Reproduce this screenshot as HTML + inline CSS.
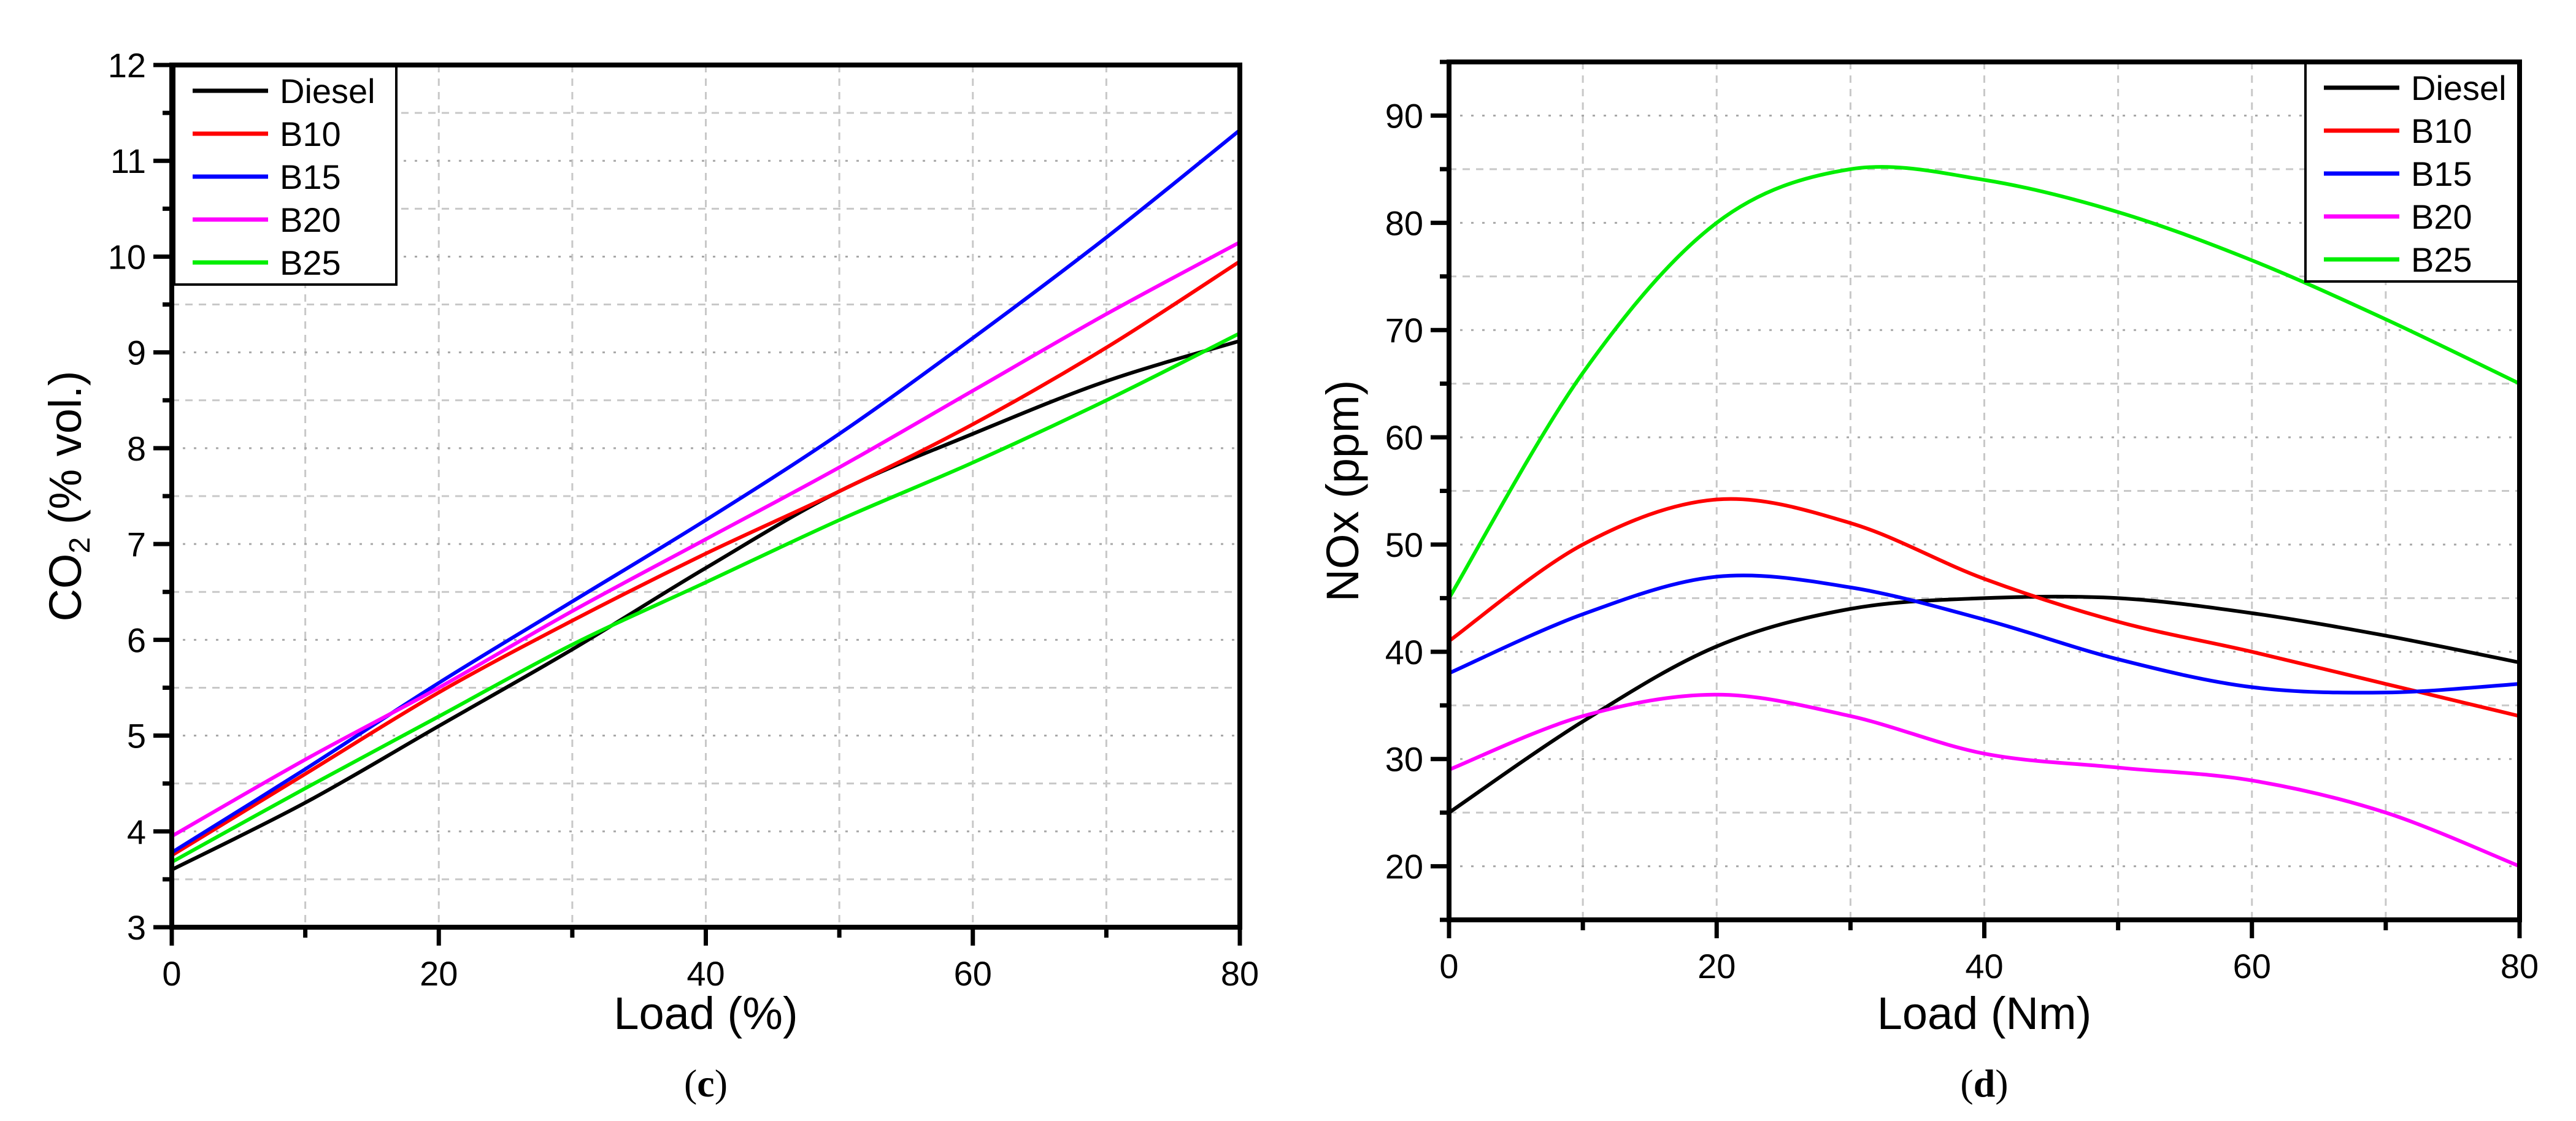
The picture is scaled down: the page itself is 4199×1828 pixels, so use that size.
<!DOCTYPE html>
<html><head><meta charset="utf-8">
<style>
html,body{margin:0;padding:0;background:#fff;}
svg{display:block;font-family:"Liberation Sans",Arial,sans-serif;}
</style></head>
<body>
<svg id="fig" width="4199" height="1828" viewBox="0 0 4199 1828" xmlns="http://www.w3.org/2000/svg"></svg>
<script>
// ---- Chart (c): CO2 ----
const co2Loads = [0,10,20,30,40,50,60,70,80];
const co2Diesel = [3.6,4.3,5.1,5.9,6.75,7.55,8.15,8.7,9.12];
const co2B10 = [3.75,4.6,5.45,6.2,6.9,7.55,8.25,9.05,9.95];
const co2B15 = [3.78,4.65,5.55,6.4,7.25,8.15,9.15,10.2,11.32];
const co2B20 = [3.95,4.75,5.5,6.3,7.05,7.8,8.6,9.4,10.15];
const co2B25 = [3.68,4.45,5.2,5.95,6.6,7.25,7.85,8.5,9.2];
const co2YTicks = [3,4,5,6,7,8,9,10,11,12];
const xTicks = [0,20,40,60,80];
// ---- Chart (d): NOx ----
const noxLoads = [0,10,20,30,40,50,60,70,80];
const noxDiesel = [25,33.5,40.5,44,45,45,43.6,41.5,39];
const noxB10 = [41,50,54.2,52,46.8,42.8,40,37,34];
const noxB15 = [38,43.5,47,46,43,39.3,36.7,36.2,37];
const noxB20 = [29,34,36,34,30.5,29.2,28,25,20];
const noxB25 = [45,66,80,85,84,81,76.5,71,65];
const noxYTicks = [20,30,40,50,60,70,80,90];
const seriesNames = ["Diesel","B10","B15","B20","B25"];
const seriesColors = ["#000000","#ff0000","#0000ff","#ff00ff","#00ee00"];

const NS="http://www.w3.org/2000/svg";
const svg=document.getElementById('fig');
function mk(tag,attrs,parent){const e=document.createElementNS(NS,tag);for(const k in attrs)e.setAttribute(k,attrs[k]);(parent||svg).appendChild(e);return e;}

function smoothPath(pts){
  let d=`M${pts[0][0]},${pts[0][1]}`;
  for(let i=0;i<pts.length-1;i++){
    const p0=pts[i-1]||pts[i],p1=pts[i],p2=pts[i+1],p3=pts[i+2]||p2;
    const c1=[p1[0]+(p2[0]-p0[0])/6,p1[1]+(p2[1]-p0[1])/6];
    const c2=[p2[0]-(p3[0]-p1[0])/6,p2[1]-(p3[1]-p1[1])/6];
    d+=` C${c1[0]},${c1[1]} ${c2[0]},${c2[1]} ${p2[0]},${p2[1]}`;
  }
  return d;
}

function chart(cfg){
  const g=mk('g',{});
  
  
  const X=v=>cfg.x0+(v-0)/80*(cfg.x1-cfg.x0);
  const Y=v=>cfg.yb+(v-cfg.ymin)/(cfg.ymax-cfg.ymin)*(cfg.yt-cfg.yb);
  for(let v=10;v<80;v+=10){
    const l=mk('line',{x1:X(v),x2:X(v),y1:cfg.yt,y2:cfg.yb,stroke:'#c8c8c8','stroke-width':3,'stroke-dasharray':'12 10'},g);
    
    
  }
  for(let v=cfg.ymin+cfg.minor;v<cfg.ymax-1e-9;v+=cfg.minor){
    const major=Math.abs(v/cfg.major-Math.round(v/cfg.major))<1e-6;
    const l=mk('line',{x1:cfg.x0,x2:cfg.x1,y1:Y(v),y2:Y(v),stroke:major?'#a8a8a8':'#c8c8c8','stroke-width':3,'stroke-dasharray':major?'4 14':'12 10'},g);
    
    
  }
  cfg.series.forEach((s,i)=>{
    const pts=cfg.loads.map((x,j)=>[X(x),Y(s[j])]);
    const p=mk('path',{d:smoothPath(pts),fill:'none',stroke:seriesColors[i],'stroke-width':6},g);
    
    
  });
  const f=mk('rect',{x:cfg.x0,y:cfg.yt,width:cfg.x1-cfg.x0,height:cfg.yb-cfg.yt,fill:'none',stroke:'#000','stroke-width':8},g);
  
  
  for(let v=0;v<=80;v+=10){
    const major=v%20===0;
    const t=mk('line',{x1:X(v),x2:X(v),y1:cfg.yb,y2:cfg.yb+(major?30:17),stroke:'#000','stroke-width':7},g);
    
    
  }
  xTicks.forEach(v=>{
    const t=mk('text',{x:X(v),y:cfg.yb+95,'font-size':56,'text-anchor':'middle'},g);
    t.textContent=v;
    
    
  });
  for(let v=cfg.ymin;v<=cfg.ymax+1e-9;v+=cfg.minor){
    const major=Math.abs(v/cfg.major-Math.round(v/cfg.major))<1e-6;
    const t=mk('line',{x1:cfg.x0,x2:cfg.x0-(major?30:15),y1:Y(v),y2:Y(v),stroke:'#000','stroke-width':7},g);
    
    
  }
  cfg.yticks.forEach(v=>{
    const t=mk('text',{x:cfg.x0-42,y:Y(v)+20,'font-size':56,'text-anchor':'end'},g);
    t.textContent=v;
    
    
  });
  const xt=mk('text',{x:(cfg.x0+cfg.x1)/2,y:1678,'font-size':74,'text-anchor':'middle'},g);
  xt.textContent=cfg.xtitle;
  
  
  const yt=mk('text',{x:0,y:0,'font-size':74,'text-anchor':'middle',transform:`translate(${cfg.x0-148},${(cfg.yt+cfg.yb)/2}) rotate(-90)`},g);
  
  
  cfg.ytitle(yt);
  const lg=mk('g',{},g);
  
  
  mk('rect',{x:cfg.lx,y:cfg.ly,width:cfg.lw,height:356,fill:'#fff',stroke:'#000','stroke-width':4},lg);
  seriesNames.forEach((n,i)=>{
    const yy=cfg.ly+40+i*70;
    const e=mk('g',{},lg);
    
    
    mk('line',{x1:cfg.lx+30,x2:cfg.lx+153,y1:yy,y2:yy,stroke:seriesColors[i],'stroke-width':7},e);
    const t=mk('text',{x:cfg.lx+172,y:yy+20,'font-size':56},e);
    t.textContent=n;
  });
  const c=mk('text',{x:(cfg.x0+cfg.x1)/2,y:1788,'font-size':64,'text-anchor':'middle','font-family':'"Liberation Serif",serif'},g);
  
  
  c.innerHTML='(<tspan font-weight="bold">'+cfg.cap+'</tspan>)';
}

chart({name:'co2-chart',x0:280,x1:2021,yt:106,yb:1512,ymin:3,ymax:12,major:1,minor:0.5,
  loads:co2Loads,series:[co2Diesel,co2B10,co2B15,co2B20,co2B25],yticks:co2YTicks,
  xtitle:'Load (%)',lx:284,ly:108,lw:362,cap:'c',
  ytitle:t=>{t.innerHTML='CO<tspan font-size="48" dy="14">2</tspan><tspan dy="-14"> (% vol.)</tspan>';}});
chart({name:'nox-chart',x0:2362,x1:4107,yt:101,yb:1500,ymin:15,ymax:95,major:10,minor:5,
  loads:noxLoads,series:[noxDiesel,noxB10,noxB15,noxB20,noxB25],yticks:noxYTicks,
  xtitle:'Load (Nm)',lx:3758,ly:103,lw:347,cap:'d',
  ytitle:t=>{t.textContent='NOx (ppm)';}});
</script>
</body></html>
